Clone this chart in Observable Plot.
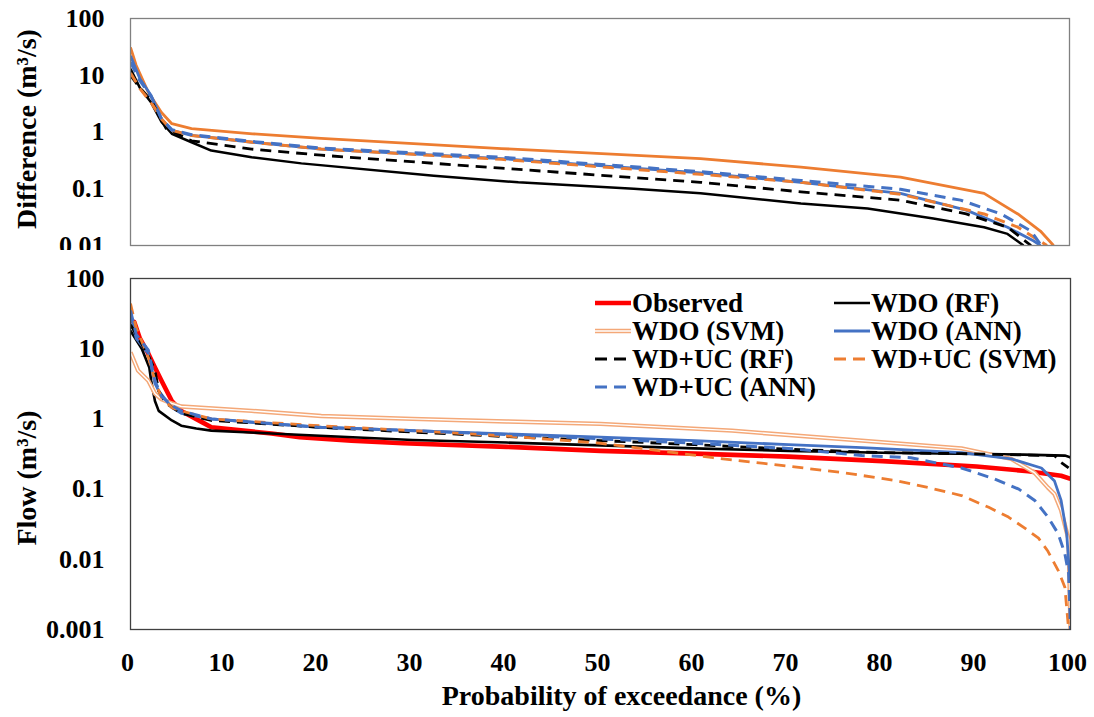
<!DOCTYPE html>
<html><head><meta charset="utf-8">
<script src="https://cdn.jsdelivr.net/npm/d3@7"></script>
<script src="https://cdn.jsdelivr.net/npm/@observablehq/plot@0.6"></script>
<style>
body{margin:0;background:#fff;}
#wrap{position:relative;width:1094px;height:717px;background:#fff;font-family:'Liberation Serif','Times New Roman',serif;font-weight:bold;}
#top,#bot{position:absolute;left:0;}
#top{top:0}
#bot{top:250px}
#legend{position:absolute;left:0;top:0;}
#wrap svg text{font-family:'Liberation Serif','Times New Roman',serif !important;font-weight:bold;}
</style></head><body>
<div id="wrap"><div id="top"></div><div id="bot"></div><svg id="legend" width="1094" height="717" style="pointer-events:none"></svg></div>
<script>
// ---------- Labels / ticks ----------
const xTicks = [0, 10, 20, 30, 40, 50, 60, 70, 80, 90, 100];
const diffTicks = [0.01, 0.1, 1, 10, 100];
const flowTicks = [0.001, 0.01, 0.1, 1, 10, 100];
const xTitle = "Probability of exceedance (%)";
const diffTitle = "Difference (m³/s)";
const flowTitle = "Flow (m³/s)";
const seriesNames = ["Observed", "WDO (RF)", "WDO (SVM)", "WDO (ANN)", "WD+UC (RF)", "WD+UC (SVM)", "WD+UC (ANN)"];

// ---------- Top panel: Difference ----------
const dWdoRF_p = [0, 1.0, 2.2, 3.3, 4.4, 6.5, 8.6, 12.9, 18.2, 32.3, 41.3, 53.6, 60.7, 71.4, 78.5, 85.5, 90.9, 93.4, 95.1];
const dWdoRF_v = [13, 6, 3.3, 1.5, 0.93, 0.66, 0.47, 0.36, 0.28, 0.17, 0.13, 0.10, 0.083, 0.055, 0.045, 0.030, 0.021, 0.016, 0.01];
const dWdoSVM_p = [0, 0.6, 1.9, 3.3, 4.4, 6.5, 13, 20.3, 39.5, 60.7, 71.4, 82, 90.9, 94.5, 96.9, 98.3];
const dWdoSVM_v = [31, 15, 5, 2.2, 1.4, 1.15, 0.93, 0.77, 0.51, 0.34, 0.24, 0.16, 0.083, 0.036, 0.018, 0.01];
const dWdoANN_p = [0, 1.0, 2.2, 3.3, 4.4, 6.5, 13, 20.3, 39.5, 60.7, 71.4, 82, 89, 93.4, 96.2, 96.9];
const dWdoANN_v = [22, 8.7, 4.4, 1.7, 1.07, 0.87, 0.66, 0.5, 0.34, 0.19, 0.13, 0.083, 0.042, 0.021, 0.012, 0.01];
const dWducRF_p = [0, 1.0, 2.2, 3.8, 6.5, 12.9, 20.3, 39.5, 60.7, 71.4, 82, 89, 93.4, 95.9];
const dWducRF_v = [10, 6, 3.6, 1.15, 0.7, 0.5, 0.39, 0.23, 0.13, 0.088, 0.063, 0.036, 0.021, 0.01];
const dWducSVM_p = [0, 1.0, 2.2, 3.3, 4.4, 6.5, 13, 20.3, 39.5, 60.7, 71.4, 82, 90.9, 94.5, 97.6];
const dWducSVM_v = [11, 5.8, 3.3, 1.7, 1.07, 0.87, 0.66, 0.5, 0.33, 0.18, 0.13, 0.08, 0.036, 0.021, 0.01];
const dWducANN_p = [0, 1.0, 2.2, 3.3, 4.4, 6.5, 13, 20.3, 39.5, 60.7, 71.4, 82, 88.4, 92.7, 95.9, 97];
const dWducANN_v = [17, 8, 4.2, 1.7, 1.1, 0.9, 0.68, 0.52, 0.36, 0.2, 0.14, 0.098, 0.063, 0.036, 0.018, 0.01];

// ---------- Bottom panel: Flow ----------
const obs_p = [0, 0.4, 1.0, 1.9, 2.6, 3.3, 4.4, 5.4, 7.6, 8.6, 12, 15, 18, 23.5, 29, 40, 50, 60, 70, 80, 90, 95.5, 99, 100];
const obs_v = [25, 24, 14, 8.5, 5.4, 3.5, 1.8, 1.3, 0.9, 0.76, 0.68, 0.62, 0.55, 0.49, 0.45, 0.40, 0.35, 0.32, 0.29, 0.25, 0.21, 0.18, 0.155, 0.14];
const wdoRF_p = [0, 1.2, 2.0, 2.2, 2.6, 3.0, 4.4, 5.4, 7, 8.6, 15, 19.6, 30, 40, 50, 60, 70, 80, 88, 95, 99.4, 99.8, 100];
const wdoRF_v = [18, 10, 5.4, 3.5, 1.8, 1.3, 0.95, 0.8, 0.73, 0.68, 0.62, 0.58, 0.5, 0.46, 0.42, 0.38, 0.35, 0.33, 0.32, 0.31, 0.30, 0.29, 0.28];
const wdoSVM_p = [0, 0.8, 1.9, 2.6, 3.3, 4.4, 5.4, 12.9, 20.3, 30, 40, 50, 64, 77.8, 88.4, 93.7, 96.2, 97.6, 98.3, 99, 99.8, 100];
const wdoSVM_v = [8.9, 4.9, 3.5, 2.3, 1.9, 1.66, 1.5, 1.3, 1.1, 1.0, 0.92, 0.85, 0.68, 0.49, 0.38, 0.27, 0.17, 0.105, 0.085, 0.05, 0.019, 0.001];
const wdoANN_p = [0, 0.6, 1.9, 2.6, 3.0, 4.4, 5.4, 8.6, 12.9, 20.3, 30, 40, 50, 60, 70, 77.8, 88.4, 93.7, 96.9, 98.3, 99.0, 99.6, 99.9];
const wdoANN_v = [32, 14, 8.5, 3.2, 2.5, 1.45, 1.2, 1.0, 0.89, 0.76, 0.68, 0.61, 0.55, 0.49, 0.43, 0.39, 0.33, 0.27, 0.2, 0.13, 0.069, 0.023, 0.006];
const wducRF_p = [0, 1.9, 2.6, 3.0, 3.8, 5.4, 8.6, 13.9, 20, 30, 40, 50, 60, 70, 80, 88.4, 98.3, 99.0, 99.8];
const wducRF_v = [22, 8, 4.9, 2.5, 1.66, 1.2, 0.95, 0.86, 0.76, 0.65, 0.56, 0.49, 0.43, 0.37, 0.33, 0.32, 0.3, 0.24, 0.2];
const wducSVM_p = [0, 0.6, 1.9, 2.6, 3.3, 4.4, 5.4, 8.6, 20, 30, 40, 50, 55, 62, 69, 76, 81.3, 84.9, 88.4, 91.3, 93.4, 95.1, 96.6, 97.6, 98.7, 99.4, 99.8];
const wducSVM_v = [44, 20, 7.5, 3.5, 2.0, 1.45, 1.3, 1.0, 0.8, 0.68, 0.57, 0.45, 0.37, 0.28, 0.22, 0.17, 0.133, 0.105, 0.081, 0.055, 0.040, 0.028, 0.020, 0.013, 0.0069, 0.004, 0.001];
const wducANN_p = [0, 0.6, 1.9, 2.6, 3.3, 4.4, 5.4, 8.6, 20, 30, 40, 50, 60, 70, 77.8, 83, 88.4, 91.9, 94.5, 96.2, 97.6, 98.7, 99.4, 99.8, 100];
const wducANN_v = [35, 16, 9.5, 3.5, 2.1, 1.55, 1.3, 1.0, 0.76, 0.68, 0.6, 0.52, 0.45, 0.38, 0.30, 0.28, 0.2, 0.14, 0.10, 0.069, 0.04, 0.023, 0.012, 0.0063, 0.001];

// ---------- helpers ----------
const FONT = "'Liberation Serif','Times New Roman',serif";
const rows = (p, v) => p.map((d, i) => ({p: d, v: v[i]}));
const fmt = d => String(d);
const RED = "#FF0000", BLK = "#000000", ORG = "#ED7D31", BLU = "#4472C4", LORG = "#F4A878";
const DASH = "11,7";

function lineMark(data, stroke, w, dash) {
  return Plot.line(data, {x: "p", y: "v", stroke, strokeWidth: w, strokeDasharray: dash, strokeLinecap: "butt", strokeLinejoin: "round", clip: true});
}
const plotStyle = {fontFamily: FONT, fontSize: "26px", fontWeight: "bold", color: "#000", background: "white", overflow: "visible"};
const tf = {fontFamily: FONT, fontWeight: "bold"};

// ---------- Top plot ----------
const topPlot = Plot.plot({
  width: 1094, height: 250, marginTop: 18, marginBottom: 5, marginLeft: 130, marginRight: 25,
  style: plotStyle,
  x: {domain: [0, 100], axis: null},
  y: {type: "log", domain: [0.01, 100]},
  marks: [
    lineMark(rows(dWdoRF_p, dWdoRF_v), BLK, 2.5),
    lineMark(rows(dWdoSVM_p, dWdoSVM_v), ORG, 2.8),
    lineMark(rows(dWdoANN_p, dWdoANN_v), BLU, 2.8),
    lineMark(rows(dWducRF_p, dWducRF_v), BLK, 2.8, DASH),
    lineMark(rows(dWducSVM_p, dWducSVM_v), ORG, 3, DASH),
    lineMark(rows(dWducANN_p, dWducANN_v), BLU, 3, DASH),
    Plot.frame({stroke: "#808080", strokeWidth: 1.3}),
    Plot.axisY({ticks: diffTicks, tickFormat: fmt, tickSize: 0, tickPadding: 26, label: null, fontSize: 26, ...tf}),
    Plot.text([diffTitle], {text: d => d, frameAnchor: "left", rotate: -90, dx: -95, dy: -3, lineAnchor: "bottom", textAnchor: "middle", fontSize: 28, ...tf})
  ]
});
document.getElementById("top").appendChild(topPlot);

// ---------- Bottom plot ----------
const botPlot = Plot.plot({
  width: 1094, height: 467, marginTop: 28, marginBottom: 88, marginLeft: 130, marginRight: 24,
  style: plotStyle,
  x: {domain: [0, 100]},
  y: {type: "log", domain: [0.001, 100]},
  marks: [
    lineMark(rows(obs_p, obs_v), RED, 4.6),
    lineMark(rows(wdoRF_p, wdoRF_v), BLK, 2.6),
    lineMark(rows(wdoSVM_p, wdoSVM_v), LORG, 4.4),
    lineMark(rows(wdoSVM_p, wdoSVM_v), "#ffffff", 1.4),
    lineMark(rows(wdoANN_p, wdoANN_v), BLU, 2.8),
    lineMark(rows(wducRF_p, wducRF_v), BLK, 2.8, DASH),
    lineMark(rows(wducSVM_p, wducSVM_v), ORG, 2.8, DASH),
    lineMark(rows(wducANN_p, wducANN_v), BLU, 3, DASH),
    Plot.frame({stroke: "#404040", strokeWidth: 1.3}),
    Plot.axisY({ticks: flowTicks, tickFormat: fmt, tickSize: 0, tickPadding: 26, label: null, fontSize: 26, ...tf}),
    Plot.axisX({ticks: xTicks, tickFormat: fmt, tickSize: 0, tickPadding: 23, dx: -3, label: null, fontSize: 26, ...tf}),
    Plot.text([flowTitle], {text: d => d, frameAnchor: "left", rotate: -90, dx: -95, dy: 24, lineAnchor: "bottom", textAnchor: "middle", fontSize: 28, ...tf}),
    Plot.text([xTitle], {text: d => d, frameAnchor: "bottom", dx: 21, dy: 56, lineAnchor: "top", textAnchor: "middle", fontSize: 28, ...tf})
  ]
});
document.getElementById("bot").appendChild(botPlot);

// ---------- Legend (inside lower panel, top-right) ----------
const legendStyles = [
  {c: RED, w: 4.6}, {c: BLK, w: 2.6}, {c: LORG, w: 4.4, inner: true}, {c: BLU, w: 2.8},
  {c: BLK, w: 2.8, dash: "12,7"}, {c: ORG, w: 2.8, dash: "12,7"}, {c: BLU, w: 3, dash: "12,7"}
];
const legendPos = [[0,0],[1,0],[0,1],[1,1],[0,2],[1,2],[0,3]];
const lg = d3.select("#legend");
seriesNames.forEach((name, i) => {
  const [col, row] = legendPos[i];
  const x0 = col === 0 ? 595 : 834;
  const y = 303 + row * 28;
  const s = legendStyles[i];
  lg.append("line").attr("x1", x0).attr("x2", x0 + 36).attr("y1", y).attr("y2", y)
    .attr("stroke", s.c).attr("stroke-width", s.w).attr("stroke-dasharray", s.dash || null);
  if (s.inner) lg.append("line").attr("x1", x0).attr("x2", x0 + 36).attr("y1", y).attr("y2", y)
    .attr("stroke", "#fff").attr("stroke-width", 1.4);
  lg.append("text").attr("x", x0 + 37).attr("y", y).attr("dy", "0.34em")
    .attr("font-family", FONT).attr("font-weight", "bold").attr("font-size", 27).text(name);
});
</script>
</body></html>
